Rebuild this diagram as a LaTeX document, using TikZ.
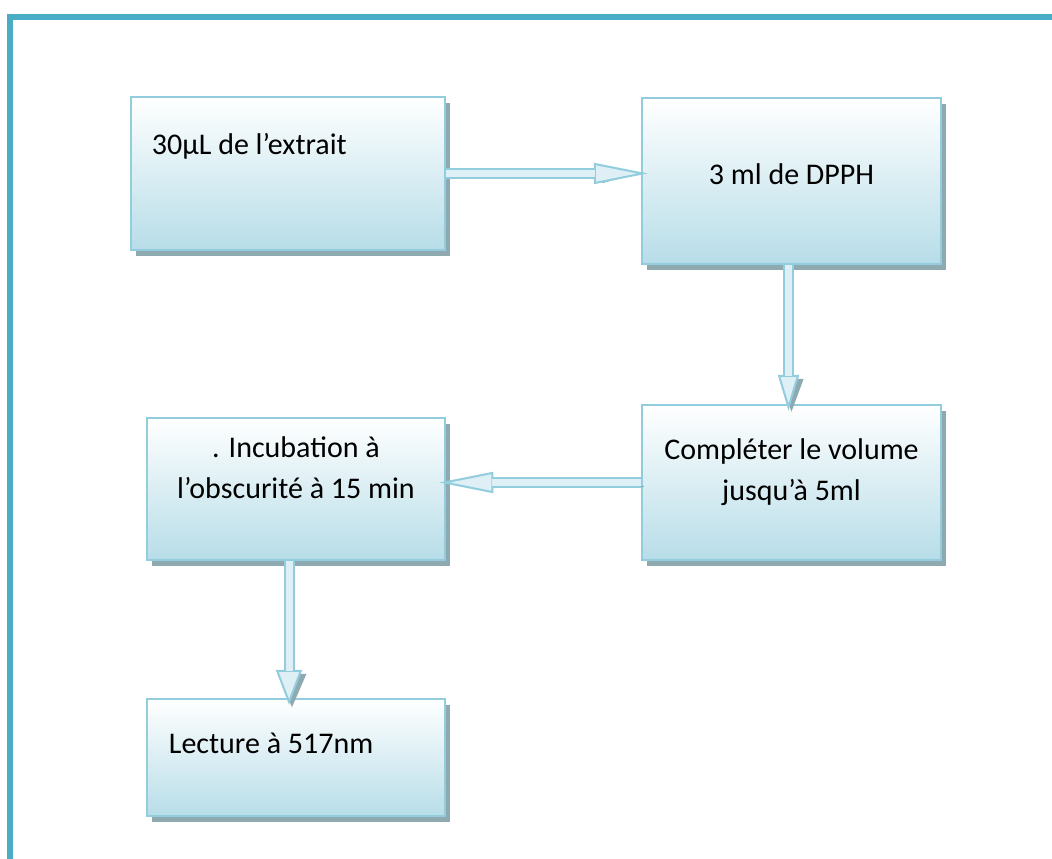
\documentclass[tikz,border=0pt]{standalone}
\usepackage{fontspec}
\setmainfont{Carlito}
\usetikzlibrary{positioning, arrows.meta, shadows}

\definecolor{frameteal}{RGB}{75,172,198}
\definecolor{boxedge}{RGB}{146,205,221}
\definecolor{boxbottom}{RGB}{183,221,232}
\definecolor{shadowgray}{RGB}{143,169,177}
\definecolor{arrowfill}{RGB}{222,240,245}

\begin{document}
\begin{tikzpicture}[
    x=1pt, y=-1pt,
    box_step/.style={rectangle, draw=boxedge, line width=2.5pt, inner sep=0pt,
      top color=white, middle color=boxbottom!55!white, bottom color=boxbottom,
      drop shadow={shadow xshift=4.5pt, shadow yshift=-6pt, fill=shadowgray, opacity=1}},
    txt_step/.style={inner sep=0pt, align=center, font=\fontsize{30pt}{41pt}\selectfont},
    fat_arrow/.style 2 args={line width=11pt, draw=boxedge, shorten >=-7pt,
      -{Triangle[length=#1, width=#2, line width=2pt, fill=arrowfill]},
      preaction={draw=shadowgray, transform canvas={shift={(3pt,-4pt)}}, shorten >=-7pt,
        -{Triangle[length=#1, width=#2, fill=shadowgray]}},
      postaction={draw=arrowfill, line width=7pt, -, shorten >=#1-8.5pt}}
  ]
  \useasboundingbox (0,0) rectangle (1052,859);
  \draw[frameteal, line width=6pt] (10,859) -- (10,17) -- (1052,17);

  % steps
  \node[box_step, minimum width=314pt, minimum height=153pt] (b1) at (288,173.5) {};
  \node[box_step, minimum width=299pt, minimum height=166pt] (b2) at (791.5,181) {};
  \node[box_step, minimum width=299pt, minimum height=155pt] (b3) at (791.5,482.5) {};
  \node[box_step, minimum width=298pt, minimum height=142pt] (b4) at (296,489) {};
  \node[box_step, minimum width=298pt, minimum height=117pt] (b5) at (296,757.5) {};

  \node[txt_step, anchor=base west] (t1) at ([shift={(22,59)}]b1.north west) {30µL de l’extrait};
  \node[txt_step, anchor=base] (t2) at ([shift={(0,88)}]b2.north) {3 ml de DPPH};
  \node[txt_step, anchor=base] (t3) at ([shift={(0,97)}]b3.north) {Compléter le volume\\jusqu’à 5ml};
  \node[txt_step, anchor=base] (t4) at ([shift={(0,82)}]b4.north) {. Incubation à\\l’obscurité à 15 min};
  \node[txt_step, anchor=base west] (t5) at ([shift={(23,56)}]b5.north west) {Lecture à 517nm};

  % flow
  \draw[fat_arrow={54pt}{21pt}] (b1.east) -- (b1.east -| b2.west);
  \draw[fat_arrow={36pt}{21pt}] ([xshift=-3pt]b2.south) -- ([xshift=-3pt]b3.north);
  \draw[fat_arrow={54pt}{21pt}] (b3.west) -- (b3.west -| b4.east);
  \draw[fat_arrow={35pt}{26pt}] ([xshift=-7pt]b4.south) -- ([xshift=-7pt]b5.north);
\end{tikzpicture}
\end{document}
